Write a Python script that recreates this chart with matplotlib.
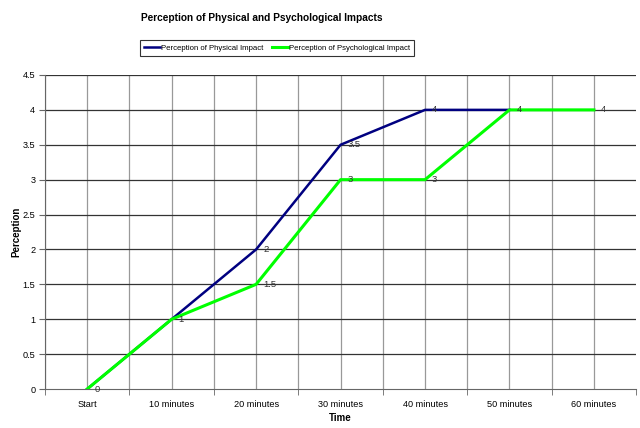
import matplotlib.pyplot as plt

categories = ['Start', '10 minutes', '20 minutes', '30 minutes', '40 minutes', '50 minutes', '60 minutes']
physical = [0, 1, 2, 3.5, 4, 4]
psychological = [0, 1, 1.5, 3, 3, 4, 4]

fig = plt.figure(figsize=(6.4, 4.28), dpi=100)
ax = fig.add_axes([0.0703, 0.0911, 0.9237, 0.7337])

x_phys = list(range(len(physical)))
x_psy = list(range(len(psychological)))

ax.plot(x_phys, physical, color='#000080', lw=1.8, label='Perception of Physical Impact', zorder=3)
ax.plot(x_psy, psychological, color='#00ff00', lw=2.2, label='Perception of Psychological Impact', zorder=4)

# data labels
for x, y in zip(x_phys, physical):
    ax.annotate(str(y), (x, y), xytext=(5, 0), textcoords='offset points',
                fontsize=6.8, va='center', ha='left', color='#333333', zorder=5,
                family='Liberation Sans')
for x, y in zip(x_psy, psychological):
    if x < len(physical) and physical[x] == y:
        continue
    ax.annotate(str(y), (x, y), xytext=(5, 0), textcoords='offset points',
                fontsize=6.8, va='center', ha='left', color='#333333', zorder=5,
                family='Liberation Sans')

ax.set_xlim(-0.5, 6.5)
ax.set_ylim(0, 4.5)
ax.set_xticks(range(len(categories)))
ax.set_xticklabels(categories, fontsize=6.6, family='Liberation Sans')
ax.set_yticks([i * 0.5 for i in range(10)])
ax.set_yticklabels(['0', '0.5', '1', '1.5', '2', '2.5', '3', '3.5', '4', '4.5'],
                   fontsize=6.6, family='Liberation Sans')

# gridlines: vertical at centres and boundaries, horizontal at each tick
for i in range(14):
    ax.axvline(-0.5 + 0.5 * i, color='#999999', lw=0.9, zorder=1)
for i in range(1, 10):
    ax.axhline(0.5 * i, color='#333333', lw=0.9, zorder=1)

ax.tick_params(axis='x', length=0, pad=8)
ax.set_xticks([i - 0.5 for i in range(8)], minor=True)
ax.tick_params(axis='x', which='minor', length=4, color='#666666')
ax.tick_params(axis='y', length=4, color='#666666', pad=3)
for s in ['top', 'right']:
    ax.spines[s].set_visible(False)
ax.spines['left'].set_color('#666666')
ax.spines['bottom'].set_color('#666666')

ax.set_xlabel('Time', fontsize=7, fontweight='bold', family='Liberation Sans', labelpad=3)
ax.set_ylabel('Perception', fontsize=7, fontweight='bold', family='Liberation Sans')
ax.yaxis.set_label_coords(-0.04, 0.5)

fig.text(262 / 640, 1 - 18 / 428, 'Perception of Physical and Psychological Impacts', ha='center', va='center',
         fontsize=7.3, fontweight='bold', family='Liberation Sans')

leg = fig.legend(loc='center', bbox_to_anchor=(277 / 640, 0.888), ncol=2,
                 frameon=True, fancybox=False, edgecolor='black', handlelength=2.0,
                 handletextpad=0.1, columnspacing=1.2, borderpad=0.5,
                 prop={'family': 'Liberation Sans', 'size': 5.6})
leg.get_frame().set_linewidth(0.8)

fig.savefig('out.png', dpi=100)
